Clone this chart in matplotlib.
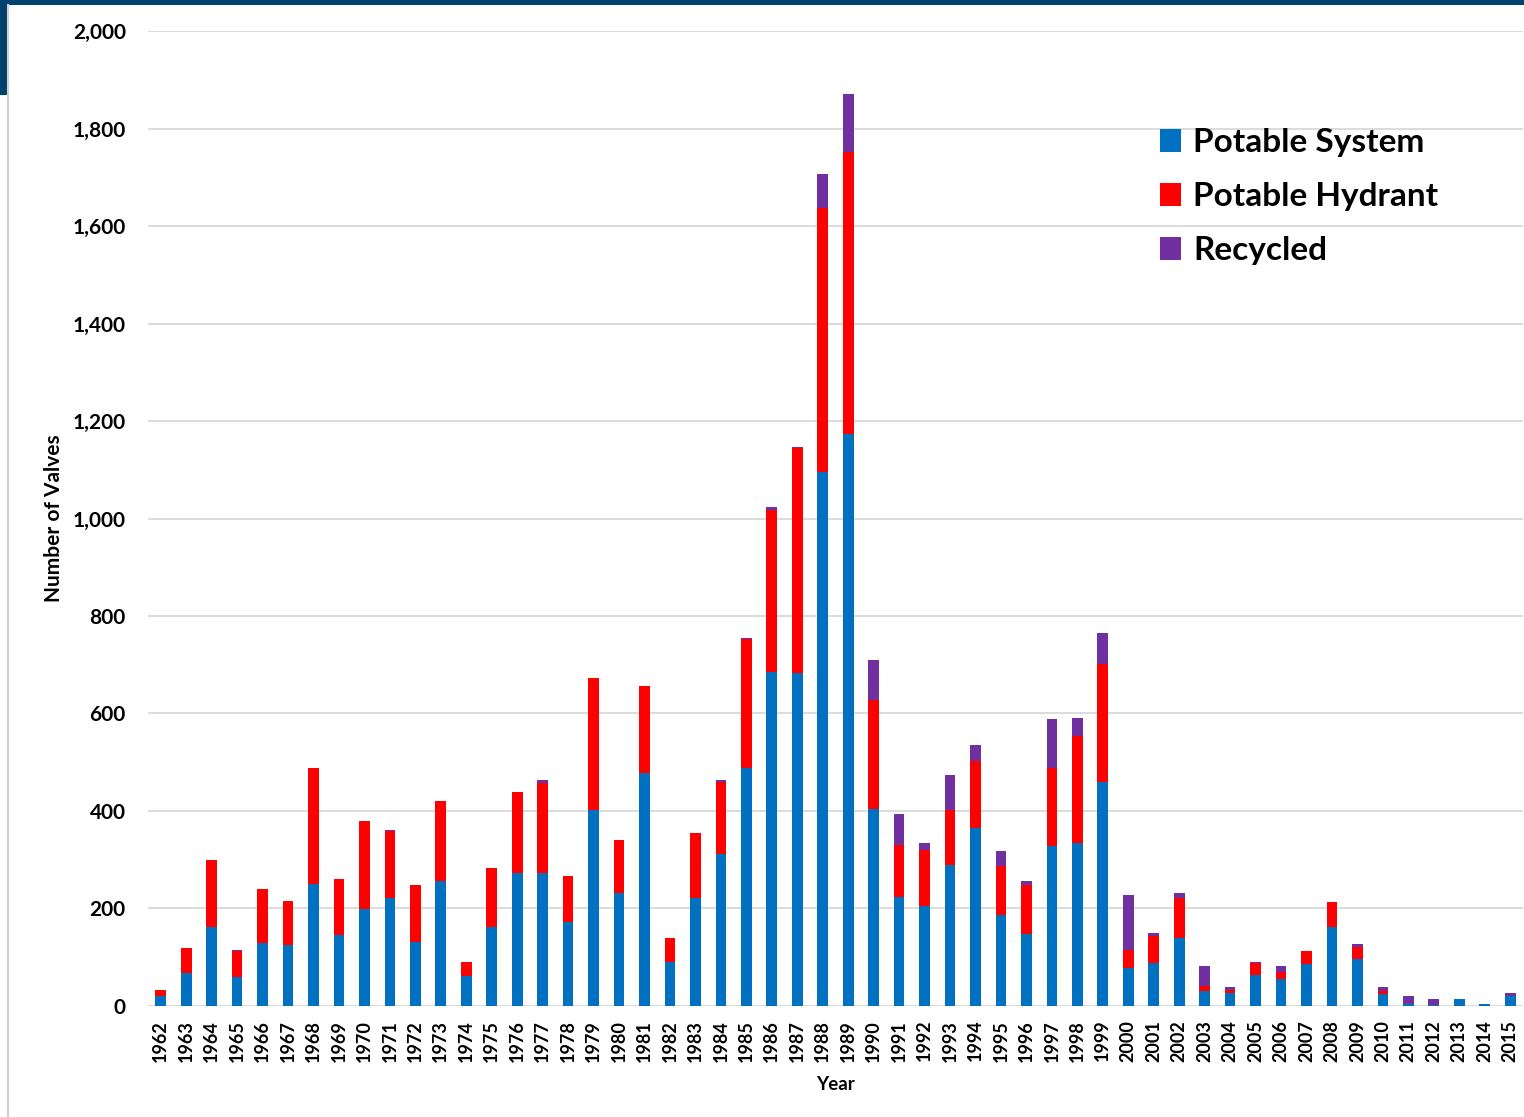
import numpy as np
import matplotlib.pyplot as plt
from matplotlib.patches import Rectangle
from matplotlib.lines import Line2D

plt.rcParams['font.family'] = ['Lato', 'DejaVu Sans']

years = [str(y) for y in range(1962, 2016)]

potable_system = [21, 68, 161, 59, 129, 125, 250, 146, 198, 222,
                  132, 256, 61, 163, 272, 272, 172, 403, 231, 477,
                  90, 221, 312, 488, 686, 683, 1095, 1173, 405, 223,
                  206, 289, 366, 187, 148, 328, 334, 459, 77, 88,
                  139, 31, 26, 63, 56, 87, 161, 96, 25, 5,
                  3, 14, 5, 21]
potable_hydrant = [12, 51, 138, 54, 110, 90, 238, 115, 181, 137,
                   116, 165, 29, 120, 167, 185, 95, 269, 110, 179,
                   49, 133, 147, 265, 331, 462, 541, 579, 223, 107,
                   113, 112, 137, 101, 100, 160, 219, 243, 37, 55,
                   83, 10, 7, 25, 14, 25, 52, 24, 5, 0,
                   0, 0, 0, 0]
recycled = [0, 0, 0, 2, 0, 0, 0, 0, 0, 2,
            0, 0, 0, 0, 0, 7, 0, 0, 0, 0,
            0, 0, 4, 2, 7, 1, 71, 119, 82, 64,
            15, 73, 32, 29, 8, 101, 38, 64, 114, 7,
            10, 42, 5, 2, 11, 0, 0, 7, 8, 15,
            11, 0, 0, 6]

blue = '#0070C0'
red = '#FF0000'
purple = '#7030A0'

fig = plt.figure(figsize=(15.24, 11.17), dpi=100)
ax = fig.add_axes([0.0971, 0.0994, 0.9022, 0.8728])

x = np.arange(len(years))
ps = np.array(potable_system)
ph = np.array(potable_hydrant)
rc = np.array(recycled)
w = 0.42
ax.bar(x, ps, w, color=blue, label='Potable System', zorder=3)
ax.bar(x, ph, w, bottom=ps, color=red, label='Potable Hydrant', zorder=3)
ax.bar(x, rc, w, bottom=ps + ph, color=purple, label='Recycled', zorder=3)

ax.set_xlim(-0.5, len(years) - 0.5)
ax.set_ylim(0, 2000)
ax.set_yticks(range(0, 2001, 200))
ax.set_yticklabels([f'{v:,}' for v in range(0, 2001, 200)],
                   fontsize=15, fontweight='bold')
ax.set_xticks(x)
ax.set_xticklabels(years, rotation=90, fontsize=13, fontweight='bold')
ax.tick_params(length=0, pad=10)
ax.tick_params(axis='y', pad=16)
ax.grid(axis='y', color='#D9D9D9', linewidth=1.3, zorder=0)
for s in ax.spines.values():
    s.set_visible(False)

ax.set_xlabel('Year', fontsize=13.5, fontweight='bold', labelpad=10)
ax.set_ylabel('Number of Valves', fontsize=15, fontweight='bold', labelpad=6)

ax.legend(loc='upper left', bbox_to_anchor=(0.714, 0.931), frameon=False,
          prop={'size': 24, 'weight': 'bold'}, handlelength=0.65,
          handleheight=0.65, handletextpad=0.35, labelspacing=0.75)

# navy frame pieces around the slide
fig.add_artist(Rectangle((0, 1 - 5 / 1117), 1, 5 / 1117,
                         transform=fig.transFigure, color='#00426E', lw=0))
fig.add_artist(Rectangle((0, 1 - 95 / 1117), 7 / 1524, 95 / 1117,
                         transform=fig.transFigure, color='#00426E', lw=0))
fig.add_artist(Line2D([7.5 / 1524, 7.5 / 1524], [0, 1 - 5 / 1117],
                      transform=fig.transFigure, color='#D0D0D0', lw=1.5))

fig.savefig('out.png', dpi=100)
